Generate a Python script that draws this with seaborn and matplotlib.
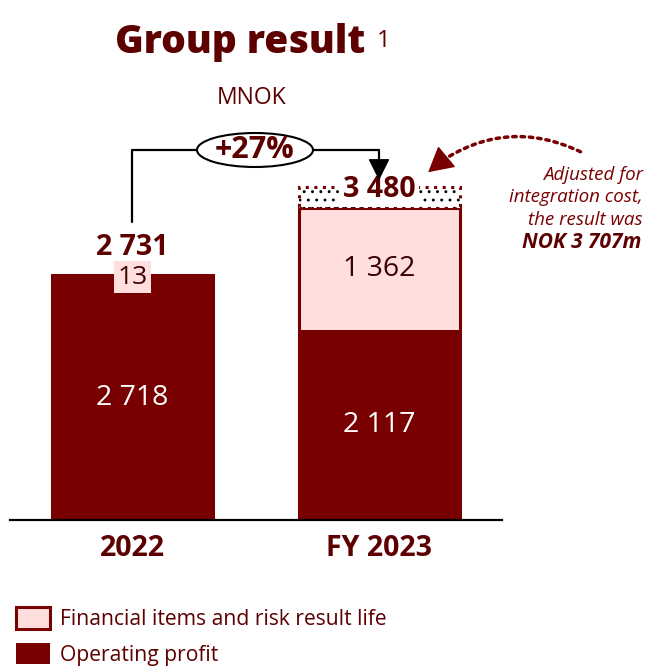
import matplotlib
matplotlib.use("Agg")
import matplotlib.pyplot as plt
import matplotlib.transforms as mtransforms
import numpy as np
import pandas as pd
import seaborn as sns
from matplotlib.patches import Ellipse, FancyArrowPatch, Patch

# data (MNOK)
years = ["2022", "FY 2023"]
operating_profit = [2718, 2117]
financial_items = [13, 1362]
group_result = [2731, 3480]
adjusted_result = 3707
growth_label = "+27%"

DARK = "#780000"
PINK = "#ffdede"
TEXT = "#5c0000"

sns.set_theme(style="white")
plt.rcParams["font.family"] = ["Open Sans", "DejaVu Sans"]
plt.rcParams["hatch.linewidth"] = 0.9

W, H = 650, 668
fig = plt.figure(figsize=(W / 100, H / 100), dpi=100)
# pixel transform (origin top-left)
px = mtransforms.Affine2D().scale(1 / W, -1 / H).translate(0, 1) + fig.transFigure

ax = fig.add_axes([10 / W, (H - 520) / H, 492 / W, 420 / H])

df = pd.DataFrame({"year": years, "op": operating_profit,
                   "fin": financial_items, "total": group_result})
bar_w = 161 / 246.5

# total bar in pink, operating profit drawn over it
sns.barplot(data=df, x="year", y="total", color=PINK, saturation=1,
            width=bar_w, edgecolor=DARK, linewidth=2.2, ax=ax)
sns.barplot(data=df, x="year", y="op", color=DARK, saturation=1,
            width=bar_w, edgecolor=DARK, linewidth=0, ax=ax)

# dotted box for integration cost on FY 2023
extra = adjusted_result - group_result[1]
ax.bar(1, extra, bottom=group_result[1], width=bar_w, color="white",
       hatch="..", edgecolor="black", linewidth=0, zorder=1)
ax.bar(1, extra, bottom=group_result[1], width=bar_w, fill=False,
       edgecolor=DARK, linewidth=2.2, linestyle=(0, (1, 1.8)), zorder=2)

ax.set_xlim(-122.5 / 246.5, 369.5 / 246.5)
ax.set_ylim(0, 420 / (245 / 2731))
ax.set_xlabel("")
ax.set_ylabel("")
ax.set_yticks([])
ax.tick_params(axis="x", length=0, pad=10)
ax.set_xticks(range(len(years)), years, fontsize=20.5, fontweight="bold", color=TEXT)
for s in ["top", "right", "left"]:
    ax.spines[s].set_visible(False)
ax.spines["bottom"].set_color("black")
ax.spines["bottom"].set_linewidth(1.6)

fmt = lambda v: f"{v:,}".replace(",", " ")

# segment labels
for i in range(len(years)):
    ax.text(i, operating_profit[i] / 2, fmt(operating_profit[i]), ha="center",
            va="center", color="white", fontsize=20.5)

ax.text(1, operating_profit[1] + financial_items[1] / 2, fmt(financial_items[1]),
        ha="center", va="center", color="#3a0000", fontsize=20.5)
ax.annotate(fmt(financial_items[0]), (0, group_result[0]), xytext=(0, -1.5),
            textcoords="offset points", ha="center", va="center", color="#3a0000",
            fontsize=19, bbox=dict(boxstyle="square,pad=0.12", fc=PINK, ec="none"))

# totals
ax.annotate(fmt(group_result[0]), (0, group_result[0]), xytext=(0, 20),
            textcoords="offset points", ha="center", va="center", color=TEXT,
            fontsize=20.5, fontweight="bold")
ax.annotate(fmt(group_result[1]), (1, adjusted_result), xytext=(0, -1.5),
            textcoords="offset points", ha="center", va="center", color=TEXT,
            fontsize=20.5, fontweight="bold",
            bbox=dict(boxstyle="square,pad=0.12", fc="white", ec="none"), zorder=5)

# title
fig.text(240 / W, 1 - 43 / H, "Group result", ha="center", va="center",
         fontsize=28, fontweight="heavy", color=TEXT)
fig.text(384 / W, 1 - 41 / H, "1", ha="center", va="center",
         fontsize=17, color=TEXT)
fig.text(252 / W, 1 - 98 / H, "MNOK", ha="center", va="center",
         fontsize=16.5, color=TEXT)

# growth bracket
fig.add_artist(plt.Line2D([132, 132, 379, 379], [222, 150, 150, 170],
                          transform=px, color="black", lw=1.6))
fig.add_artist(FancyArrowPatch((379, 168), (379, 183), transform=px,
                               arrowstyle="-|>,head_length=0.8,head_width=0.4",
                               mutation_scale=17, color="black", lw=1))
fig.add_artist(Ellipse((255, 150), 116, 34, transform=px, fc="white",
                       ec="black", lw=1.5, zorder=3))
fig.text(255 / W, 1 - 150 / H, growth_label, ha="center", va="center",
         fontsize=22, fontweight="bold", color=TEXT, zorder=4)

# adjusted note with curved dotted arrow
fig.add_artist(FancyArrowPatch((583, 153), (436, 165), transform=px,
                               connectionstyle="arc3,rad=0.3", arrowstyle="-",
                               color=DARK, lw=2.5, linestyle=(0, (1, 1.4))))
fig.add_artist(FancyArrowPatch((438, 164), (426, 174), transform=px,
                               arrowstyle="-|>,head_length=1.0,head_width=0.55",
                               mutation_scale=16, color=DARK, lw=1))
note = ["Adjusted for", "integration cost,", "the result was"]
for k, line in enumerate(note):
    fig.text(643 / W, 1 - (175 + 22.5 * k) / H, line, ha="right", va="center",
             fontsize=13.5, style="italic", color=DARK)
fig.text(641 / W, 1 - 242 / H, f"NOK {fmt(adjusted_result)}m", ha="right",
         va="center", fontsize=15, style="italic", fontweight="bold", color=TEXT)

# legend
handles = [Patch(fc=PINK, ec=DARK, lw=2.2, label="Financial items and risk result life"),
           Patch(fc=DARK, ec=DARK, lw=0, label="Operating profit")]
fig.legend(handles=handles, loc="upper left", bbox_to_anchor=(16 / W, 1 - 607 / H),
           bbox_transform=fig.transFigure, frameon=False, fontsize=15.2,
           handlelength=1.6, handleheight=1.2, handletextpad=0.5,
           labelspacing=0.6, borderpad=0, borderaxespad=0, labelcolor=TEXT)

fig.savefig("out.png", dpi=100)
